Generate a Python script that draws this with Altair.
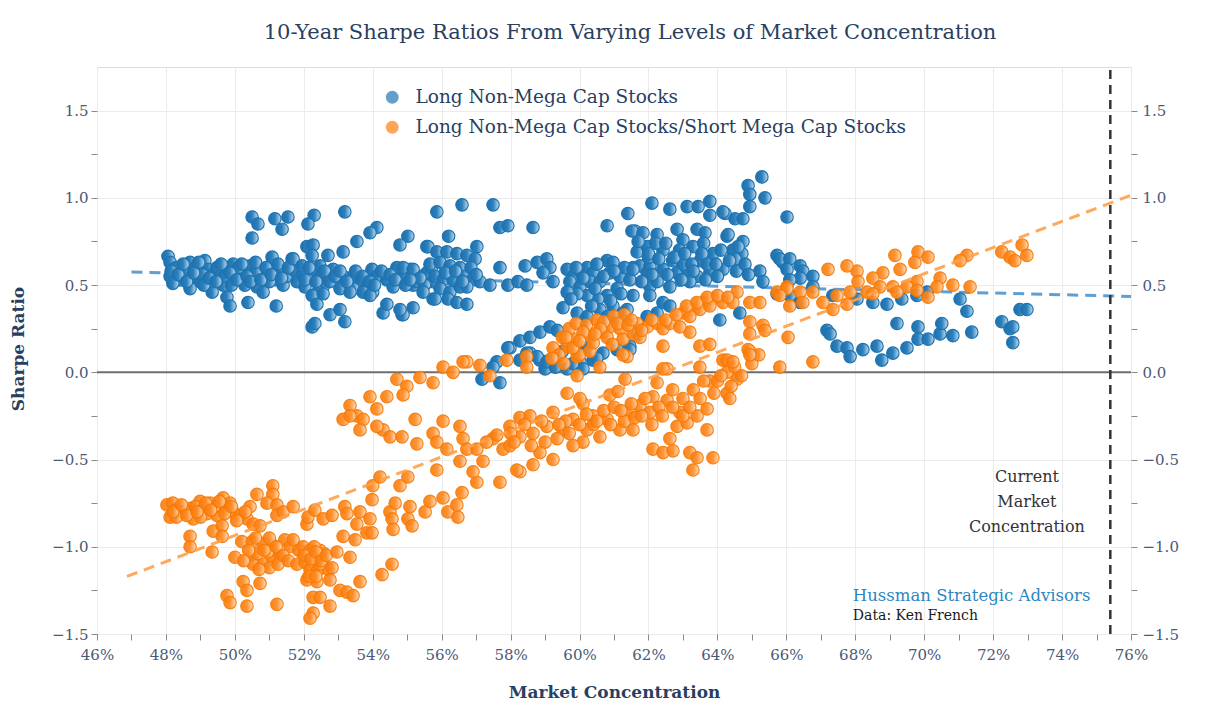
import altair as alt
import pandas as pd

# ---------------- data ----------------
series_names = ["Long Non-Mega Cap Stocks", "Long Non-Mega Cap Stocks/Short Mega Cap Stocks"]
series_colors = ["#1f77b4", "#ff7f0e"]

# Long Non-Mega Cap Stocks: (market concentration %, 10-year Sharpe ratio)
blue_48_52 = [
    (48.06, 0.665), (48.12, 0.63), (48.26, 0.59), (48.12, 0.55), (48.41, 0.53), (48.55, 0.58), (48.7, 0.63),
    (48.76, 0.55), (48.93, 0.59), (48.99, 0.52), (49.13, 0.64), (49.22, 0.59), (49.37, 0.56), (49.48, 0.6),
    (49.57, 0.55), (49.66, 0.5), (49.77, 0.59), (49.95, 0.62), (50.0, 0.56), (50.24, 0.57), (50.29, 0.5),
    (50.44, 0.61), (50.53, 0.55), (50.64, 0.49), (50.73, 0.59), (50.82, 0.46), (50.93, 0.55), (51.08, 0.66),
    (51.1, 0.59), (51.22, 0.53), (51.31, 0.58), (51.4, 0.5), (51.66, 0.65), (51.89, 0.6),
    (48.7, 0.48), (49.34, 0.46), (49.77, 0.43), (49.86, 0.38), (50.38, 0.4), (51.2, 0.38),
    (50.5, 0.89), (50.67, 0.85), (50.5, 0.77), (51.16, 0.88), (51.54, 0.89), (51.37, 0.82),
    (48.3, 0.6), (48.85, 0.6), (49.05, 0.56), (49.7, 0.55), (50.1, 0.6), (50.6, 0.58), (51.0, 0.52),
    (51.5, 0.55), (51.75, 0.58), (48.2, 0.51),
    (48.15, 0.58), (48.35, 0.56), (48.5, 0.62), (48.6, 0.52), (48.8, 0.57), (48.95, 0.63), (49.1, 0.5),
    (49.25, 0.54), (49.45, 0.52), (49.6, 0.62), (49.85, 0.57), (49.9, 0.5), (50.05, 0.53), (50.2, 0.62),
    (50.35, 0.55), (50.45, 0.52), (50.6, 0.63), (50.75, 0.53), (50.9, 0.6), (51.05, 0.56), (51.25, 0.62),
    (51.35, 0.54), (51.55, 0.6), (51.8, 0.52), (51.95, 0.56),
]
blue_52_56 = [
    (52.3, 0.9), (52.12, 0.85), (52.27, 0.59), (52.47, 0.61), (52.47, 0.55), (52.67, 0.56), (52.85, 0.59),
    (52.96, 0.52), (53.14, 0.55), (53.34, 0.49), (53.43, 0.55), (53.63, 0.52), (53.83, 0.49), (53.98, 0.59),
    (54.12, 0.55), (54.41, 0.53), (54.59, 0.49), (54.7, 0.6), (54.88, 0.55), (55.08, 0.59), (55.17, 0.5),
    (55.37, 0.55), (55.57, 0.57), (55.75, 0.52), (53.43, 0.48), (53.72, 0.46), (54.0, 0.46), (52.56, 0.49),
    (53.05, 0.48), (52.03, 0.49), (52.41, 0.46),
    (52.09, 0.72), (52.27, 0.73), (52.24, 0.67), (52.7, 0.67), (51.69, 0.65), (51.95, 0.61), (53.19, 0.92),
    (54.12, 0.83), (53.92, 0.8), (55.02, 0.78), (54.79, 0.73), (53.54, 0.75), (53.14, 0.69), (55.57, 0.72),
    (55.86, 0.92),
    (52.03, 0.53), (52.24, 0.44), (52.38, 0.39), (52.56, 0.45), (52.76, 0.33), (53.05, 0.36), (53.19, 0.29),
    (52.24, 0.26), (52.32, 0.28), (54.3, 0.34), (54.85, 0.33), (55.17, 0.37), (55.75, 0.42), (53.34, 0.46),
    (53.92, 0.44), (54.41, 0.39),
    (52.15, 0.6), (52.35, 0.52), (52.6, 0.58), (52.75, 0.52), (52.9, 0.55), (53.05, 0.58), (53.25, 0.52),
    (53.5, 0.58), (53.7, 0.55), (53.9, 0.52), (54.05, 0.5), (54.25, 0.58), (54.5, 0.56), (54.65, 0.53),
    (54.95, 0.5), (55.25, 0.52), (55.5, 0.5), (55.7, 0.6),
]
blue_56_62 = [
    (55.6, 0.72), (55.86, 0.69), (56.15, 0.69), (56.44, 0.68), (56.73, 0.67), (57.02, 0.72), (56.97, 0.65),
    (55.66, 0.62), (55.95, 0.63), (56.24, 0.61), (56.53, 0.6), (54.88, 0.6), (55.17, 0.59), (55.37, 0.54),
    (55.08, 0.53), (55.81, 0.55), (56.04, 0.53), (56.33, 0.53), (56.62, 0.55), (56.88, 0.53), (57.11, 0.52),
    (57.4, 0.5), (55.95, 0.48), (56.24, 0.46), (56.53, 0.49), (56.73, 0.49), (55.46, 0.46), (55.81, 0.42),
    (56.18, 0.42), (56.44, 0.4), (56.73, 0.39), (54.88, 0.33), (54.79, 0.36),
    (56.59, 0.96), (57.49, 0.96), (57.69, 0.83), (57.92, 0.84), (58.65, 0.83), (56.2, 0.78),
    (57.69, 0.6), (58.42, 0.61), (58.77, 0.63), (59.05, 0.65), (59.14, 0.6), (59.23, 0.52), (58.94, 0.57),
    (57.92, 0.5), (58.21, 0.52), (58.47, 0.5),
    (59.64, 0.59), (59.81, 0.55), (60.01, 0.58), (60.22, 0.6), (60.39, 0.57), (59.72, 0.52), (60.01, 0.49),
    (60.3, 0.52), (60.59, 0.52), (60.8, 0.64), (60.97, 0.63), (60.88, 0.57), (61.17, 0.55), (61.46, 0.53),
    (61.55, 0.44), (61.09, 0.48), (60.8, 0.44), (60.53, 0.42), (60.22, 0.44), (59.93, 0.45), (59.64, 0.46),
    (59.52, 0.37), (59.93, 0.34), (60.16, 0.3), (60.59, 0.36), (60.97, 0.38), (61.26, 0.34), (61.38, 0.36),
    (60.22, 0.32), (60.8, 0.32), (61.09, 0.3),
    (61.67, 0.69), (61.55, 0.6), (61.75, 0.61), (61.96, 0.57), (62.04, 0.49),
    (60.8, 0.84), (61.4, 0.91), (62.1, 0.97), (61.61, 0.81),
    (56.1, 0.57), (56.4, 0.58), (56.6, 0.52), (56.85, 0.6), (57.0, 0.56),
    (59.9, 0.6), (60.1, 0.54), (60.45, 0.48), (60.7, 0.55), (61.2, 0.45), (59.75, 0.42), (60.35, 0.38),
    (60.9, 0.41), (61.3, 0.6), (61.0, 0.58), (60.5, 0.62),
]
blue_low_57_62 = [
    (57.98, 0.14), (58.27, 0.18), (58.56, 0.2), (58.85, 0.23), (59.14, 0.26), (59.35, 0.24), (58.56, 0.11),
    (58.85, 0.07), (59.14, 0.07), (59.0, 0.02), (59.64, 0.02), (60.01, 0.06), (60.39, 0.07), (60.68, 0.11),
    (61.09, 0.13), (61.46, 0.15), (61.96, 0.32), (62.25, 0.34), (58.27, 0.07), (57.6, 0.06), (57.49, 0.03),
    (57.17, -0.04), (57.69, -0.06), (57.92, 0.14), (58.47, 0.11), (58.77, 0.09), (59.05, 0.06), (59.3, 0.03),
    (60.1, 0.02), (60.5, 0.08), (61.46, 0.13), (59.5, 0.12), (59.8, 0.05), (60.2, 0.14), (61.7, 0.22),
]
blue_62_67 = [
    (62.62, 0.935), (63.12, 0.95), (63.44, 0.95), (63.78, 0.98), (64.22, 0.91), (64.51, 0.88), (64.74, 0.88),
    (64.89, 1.07), (64.94, 1.02), (64.94, 0.95), (65.29, 1.12), (65.38, 1.0), (66.02, 0.89),
    (61.52, 0.81), (61.84, 0.8), (62.25, 0.79), (62.83, 0.82), (63.41, 0.82), (63.64, 0.8), (61.96, 0.72),
    (62.42, 0.7), (63.0, 0.76), (63.29, 0.72), (63.87, 0.68), (64.28, 0.78), (64.45, 0.7), (64.74, 0.75),
    (64.71, 0.68), (61.55, 0.59), (62.04, 0.61), (62.42, 0.59), (62.83, 0.57), (63.12, 0.59), (63.41, 0.55),
    (63.78, 0.57), (64.16, 0.59), (64.65, 0.61), (62.25, 0.52), (62.62, 0.49), (63.2, 0.52),
    (65.23, 0.58), (65.32, 0.52), (65.73, 0.67), (65.9, 0.63),
    (62.04, 0.44), (62.42, 0.4), (62.62, 0.38), (64.07, 0.3), (64.65, 0.34),
    (64.16, 0.92), (63.78, 0.9), (64.31, 0.79), (64.6, 0.72), (64.51, 0.65), (65.81, 0.65), (66.1, 0.65),
    (66.02, 0.59), (66.4, 0.61), (66.48, 0.58), (66.77, 0.55), (66.4, 0.54), (66.1, 0.53), (66.77, 0.49),
    (65.73, 0.45), (66.1, 0.44), (66.4, 0.4), (62.0, 0.66), (62.7, 0.64), (63.5, 0.64), (63.0, 0.62),
    (62.2, 0.74), (62.9, 0.7), (63.6, 0.74),
    (61.7, 0.75), (62.0, 0.68), (62.3, 0.65), (62.5, 0.74), (62.75, 0.66), (63.05, 0.68), (63.25, 0.62),
    (63.55, 0.68), (63.7, 0.62), (63.95, 0.62), (64.1, 0.7), (64.35, 0.64), (64.55, 0.58), (64.8, 0.62),
    (64.9, 0.56), (62.1, 0.56), (62.55, 0.56), (62.95, 0.53), (63.3, 0.58), (63.65, 0.53), (64.0, 0.55),
    (61.8, 0.52),
]
blue_67_73 = [
    (67.35, 0.44), (68.05, 0.42), (68.51, 0.4), (68.92, 0.39), (69.35, 0.42), (69.79, 0.44), (70.08, 0.46),
    (71.04, 0.42), (71.24, 0.35), (72.78, 0.36), (72.98, 0.36),
    (67.18, 0.24), (67.27, 0.22), (67.47, 0.15), (67.76, 0.14), (67.85, 0.09), (68.22, 0.13), (68.63, 0.15),
    (68.77, 0.07), (69.09, 0.11), (69.21, 0.28), (69.5, 0.14), (69.82, 0.26), (69.82, 0.19), (70.11, 0.19),
    (70.46, 0.22), (70.51, 0.28), (70.83, 0.21), (71.38, 0.23), (72.25, 0.29), (72.49, 0.25), (72.57, 0.26),
    (72.57, 0.17),
]

# Long Non-Mega Cap Stocks / Short Mega Cap Stocks
orange_48_52 = [
    (48.03, -0.76), (48.2, -0.75), (48.12, -0.83), (48.41, -0.8), (48.7, -0.78), (48.99, -0.74), (49.28, -0.75),
    (49.57, -0.78), (49.66, -0.72), (49.86, -0.75), (49.95, -0.8), (48.79, -0.84), (49.19, -0.81), (49.48, -0.82),
    (48.7, -0.94), (48.7, -1.0), (49.37, -0.91), (49.63, -0.88), (49.63, -0.94), (49.34, -1.03),
    (48.26, -0.79), (48.55, -0.8), (48.85, -0.77), (49.1, -0.78), (49.4, -0.77), (49.75, -0.78), (48.3, -0.83),
    (49.0, -0.83),
    (50.15, -0.82), (50.35, -0.84), (50.44, -0.77), (50.64, -0.7), (50.53, -0.87), (50.73, -0.88), (50.0, -1.06),
    (50.2, -0.97), (50.5, -0.97), (50.53, -1.05), (50.53, -1.1), (50.82, -0.98), (50.82, -1.1), (51.1, -0.99),
    (51.1, -1.07), (51.1, -0.65), (51.1, -0.7), (50.93, -0.75), (51.22, -0.76), (51.22, -0.82), (51.4, -0.8),
    (51.69, -0.77), (51.31, -1.05), (51.45, -0.96), (51.6, -1.0), (51.69, -0.96), (50.24, -1.2), (50.35, -1.25),
    (50.73, -1.21), (49.77, -1.28), (49.86, -1.32), (50.35, -1.34), (51.22, -1.33),
    (50.65, -1.04), (50.95, -1.03), (51.0, -1.12), (50.7, -1.13), (51.25, -1.1),
    (48.2, -0.8), (48.45, -0.76), (48.6, -0.82), (48.9, -0.8), (49.15, -0.75), (49.3, -0.79), (49.55, -0.74),
    (49.7, -0.81), (49.9, -0.77), (50.05, -0.85), (50.3, -0.8), (50.6, -0.95), (50.85, -1.02), (51.0, -0.95),
    (51.2, -1.0), (51.4, -1.05), (51.55, -1.08), (51.85, -1.02), (51.8, -1.1), (50.4, -1.02), (50.25, -1.08),
]
orange_52_57 = [
    (51.98, -1.0), (52.03, -1.09), (52.18, -1.02), (52.38, -1.06), (52.47, -1.02), (52.27, -1.09), (52.56, -1.07),
    (52.18, -1.13), (52.38, -1.14), (52.09, -1.19), (52.38, -1.2), (52.27, -1.29), (52.47, -1.29), (52.27, -1.38),
    (52.18, -1.41), (52.7, -1.13), (52.76, -1.19), (52.76, -1.34), (52.82, -1.12),
    (52.3, -1.0), (52.6, -1.04), (52.1, -1.05), (52.45, -1.1),
    (52.0, -1.05), (52.2, -1.07), (52.35, -1.03), (52.5, -1.08), (52.65, -1.05), (52.15, -1.17), (52.35, -1.17),
    (52.09, -0.87), (52.12, -0.83), (52.32, -0.79), (52.56, -0.84), (52.82, -0.82), (52.96, -1.03), (53.34, -1.06),
    (53.14, -0.94), (53.49, -0.96), (53.19, -0.77), (53.25, -0.81), (53.63, -0.8), (53.54, -0.87), (53.92, -0.84),
    (53.83, -0.92), (53.98, -0.92), (53.05, -1.25), (53.25, -1.26), (53.43, -1.28), (53.63, -1.2),
    (53.98, -0.73), (54.0, -0.65), (54.21, -0.6), (54.27, -1.16), (54.56, -1.1), (54.5, -0.8), (54.56, -0.84),
    (54.59, -0.9), (54.65, -0.75), (54.79, -0.65), (55.02, -0.6), (55.02, -0.84), (55.14, -0.88), (55.08, -0.77),
    (55.52, -0.8), (55.66, -0.74), (56.04, -0.72), (56.18, -0.8), (56.44, -0.76), (56.47, -0.83), (56.59, -0.69),
    (55.86, -0.56),
]
orange_upper_53_58 = [
    (53.14, -0.27), (53.34, -0.19), (53.54, -0.25), (53.72, -0.27), (53.92, -0.14), (54.12, -0.21), (54.41, -0.14),
    (54.7, -0.04), (54.99, -0.08), (54.88, -0.13), (55.37, -0.03), (55.75, -0.06), (56.04, 0.03), (56.33, 0.0),
    (56.73, 0.06), (57.11, 0.04), (57.4, -0.02), (54.3, -0.33), (54.5, -0.37), (54.12, -0.31), (53.63, -0.33),
    (53.34, -0.25), (56.62, 0.06), (57.89, 0.07), (58.47, 0.09), (58.47, 0.03),
]
orange_band_54_65 = [
    (54.85, -0.37), (55.28, -0.41), (55.23, -0.27), (55.75, -0.35), (56.04, -0.28), (55.86, -0.4), (56.15, -0.44),
    (56.53, -0.31), (56.62, -0.38), (56.73, -0.44), (57.02, -0.44), (57.2, -0.51), (56.53, -0.51), (57.49, -0.38),
    (57.78, -0.44), (57.98, -0.42), (57.98, -0.31), (58.27, -0.26), (58.56, -0.25), (58.65, -0.35), (58.27, -0.37),
    (58.85, -0.46), (59.23, -0.5), (58.65, -0.53), (58.27, -0.57), (57.69, -0.63), (57.02, -0.63), (56.91, -0.57),
    (59.05, -0.31), (59.23, -0.23), (59.52, -0.33), (59.81, -0.27), (60.1, -0.4), (59.81, -0.42), (60.22, -0.33),
    (60.59, -0.37), (60.39, -0.25), (60.1, -0.18), (59.64, -0.12), (60.01, -0.15), (60.8, -0.27), (61.17, -0.33),
    (60.88, -0.13), (61.11, -0.11), (61.32, -0.04), (61.55, -0.33), (61.46, -0.23), (61.75, -0.19), (62.04, -0.23),
    (62.13, -0.14), (62.25, -0.06), (62.54, -0.16), (62.54, 0.02), (62.91, -0.23), (62.83, -0.31), (63.12, -0.29),
    (63.41, -0.25), (63.7, -0.33), (63.49, 0.03), (63.78, -0.05), (64.28, -0.12), (64.36, -0.15), (64.16, 0.07),
    (64.28, 0.0), (64.57, -0.04),
    (62.13, -0.44), (62.42, -0.46), (62.71, -0.45), (63.2, -0.46), (63.41, -0.49), (63.87, -0.49), (63.29, -0.56),
    (62.62, -0.38), (63.7, -0.21),
    (58.0, -0.35), (58.4, -0.3), (58.9, -0.28), (59.35, -0.38), (59.6, -0.28), (60.0, -0.3), (60.4, -0.3),
    (60.7, -0.22), (61.0, -0.2), (61.3, -0.28), (61.6, -0.26), (61.9, -0.15), (62.3, -0.2), (62.7, -0.1),
    (63.0, -0.15), (63.3, -0.1), (63.6, -0.05), (64.0, -0.05), (64.5, 0.03), (64.7, -0.02), (65.0, 0.05),
    (65.2, 0.1), (59.93, -0.02), (60.59, 0.03), (58.18, -0.56),
    (57.3, -0.4), (57.6, -0.36), (58.1, -0.4), (58.6, -0.42), (59.0, -0.4), (59.4, -0.3), (59.7, -0.35),
    (60.2, -0.24), (60.5, -0.28), (60.9, -0.3), (61.2, -0.22), (61.5, -0.18), (61.8, -0.25), (62.1, -0.3),
    (62.4, -0.25), (62.7, -0.2), (63.0, -0.25), (63.2, -0.2), (63.5, -0.15), (63.9, -0.12), (64.1, -0.02),
    (64.4, -0.08),
]
orange_upper_58_67 = [
    (59.23, 0.14), (59.64, 0.15), (59.81, 0.19), (59.93, 0.09), (60.3, 0.21), (60.68, 0.23), (60.88, 0.26),
    (61.17, 0.25), (61.26, 0.19), (61.38, 0.09), (61.67, 0.28), (61.96, 0.26), (62.25, 0.28), (62.42, 0.25),
    (62.62, 0.28), (63.0, 0.34), (63.29, 0.36), (63.58, 0.4), (63.87, 0.42), (64.16, 0.4), (64.57, 0.46),
    (64.94, 0.4), (65.23, 0.4), (65.73, 0.46), (66.02, 0.49),
    (62.42, 0.15), (63.2, 0.23), (63.49, 0.15), (63.78, 0.16), (64.94, 0.29), (64.94, 0.22), (65.32, 0.27),
    (64.94, 0.12), (64.28, 0.07), (64.45, 0.06), (62.42, 0.02), (65.81, 0.03),
    (59.5, 0.2), (59.7, 0.25), (59.9, 0.28), (60.2, 0.27), (60.5, 0.3), (60.7, 0.29), (61.0, 0.32), (61.3, 0.33),
    (60.0, 0.1), (60.3, 0.12), (59.4, 0.1), (61.55, 0.22), (61.26, 0.1), (61.75, 0.2),
    (66.02, 0.48), (66.4, 0.46), (65.81, 0.44), (64.45, 0.4), (66.48, 0.4), (66.1, 0.38), (66.77, 0.46),
    (63.49, 0.36), (63.2, 0.32), (63.78, 0.38), (62.91, 0.26), (65.38, 0.24), (64.89, 0.13), (64.94, 0.1),
    (66.05, 0.2), (66.77, 0.06),
    (59.6, 0.2), (59.8, 0.14), (60.1, 0.23), (60.4, 0.17), (60.6, 0.25), (60.8, 0.2), (61.1, 0.28), (61.4, 0.27),
    (61.8, 0.24), (62.1, 0.3), (62.5, 0.3), (62.8, 0.33), (63.1, 0.38), (63.4, 0.4), (63.7, 0.43), (64.0, 0.44),
    (64.3, 0.43), (59.2, 0.08), (59.55, 0.05), (60.0, 0.18), (60.45, 0.22), (60.95, 0.16), (61.5, 0.3),
]
orange_67_73 = [
    (72.84, 0.73), (72.25, 0.69), (72.49, 0.66), (72.63, 0.64), (72.98, 0.67), (69.82, 0.69), (70.11, 0.66),
    (69.73, 0.63), (71.24, 0.67), (71.04, 0.64), (69.15, 0.67), (69.3, 0.59), (68.8, 0.57), (68.51, 0.54),
    (68.05, 0.58), (67.76, 0.61), (68.08, 0.52), (67.21, 0.59), (69.79, 0.52), (69.5, 0.49), (70.46, 0.54),
    (70.37, 0.49), (70.83, 0.5), (71.33, 0.49), (69.09, 0.49), (68.72, 0.49), (68.34, 0.46), (67.85, 0.46),
    (67.47, 0.44), (67.06, 0.4), (67.35, 0.36), (67.76, 0.39), (68.51, 0.45), (69.21, 0.46), (69.79, 0.47),
    (70.11, 0.43),
]

# fitted trend lines (end points)
blue_trend_conc = [47.0, 76.0]
blue_trend_sharpe = [0.575, 0.435]
orange_trend_conc = [46.87, 76.0]
orange_trend_sharpe = [-1.17, 1.015]

current_concentration = 75.4
x_domain = [46, 76]
y_domain = [-1.5, 1.75]

title_text = "10-Year Sharpe Ratios From Varying Levels of Market Concentration"
note_text = ["Current", "Market", "Concentration"]
brand_text = "Hussman Strategic Advisors"
source_text = "Data: Ken French"


def frame(series, *groups):
    pts = [p for g in groups for p in g]
    return pd.DataFrame({"conc": [p[0] for p in pts], "sharpe": [p[1] for p in pts], "series": series})


blue_df = frame(series_names[0], blue_48_52, blue_52_56, blue_56_62, blue_low_57_62, blue_62_67, blue_67_73)
orange_df = frame(series_names[1], orange_48_52, orange_52_57, orange_upper_53_58, orange_band_54_65,
                  orange_upper_58_67, orange_67_73)
all_df = pd.concat([blue_df, orange_df], ignore_index=True)
blue_trend_df = pd.DataFrame({"conc": blue_trend_conc, "sharpe": blue_trend_sharpe})
orange_trend_df = pd.DataFrame({"conc": orange_trend_conc, "sharpe": orange_trend_sharpe})

# ---------------- styling ----------------
FONT = "DejaVu Serif"
INK = "#2a3f5f"
TICK_INK = "#4a5877"
W, H = 1034, 567

x_scale = alt.Scale(domain=x_domain, nice=False, zero=False)
y_scale = alt.Scale(domain=y_domain, nice=False, zero=False)

x_tick_values = list(range(x_domain[0], x_domain[1] + 1))
y_tick_values = [-1.5 + 0.25 * i for i in range(13)]

common_axis = dict(
    labelFont=FONT, labelFontSize=15, labelColor=TICK_INK, tickColor="#8a8a8a", tickSize=6,
    domain=False, labelFlush=False, labelOverlap=False, gridColor="#ebebeb", gridWidth=1,
    titleFont=FONT, titleFontSize=17, titleFontWeight="bold", titleColor=INK,
)

x_axis = alt.Axis(
    values=x_tick_values,
    labelExpr="datum.value % 2 == 0 ? datum.value + '%' : ''",
    gridOpacity={"condition": {"test": "datum.value % 2 != 0", "value": 0}, "value": 1},
    labelPadding=7,
    title="Market Concentration",
    titleX=W / 2, titleY=58, titleBaseline="middle", titleAlign="center",
    **common_axis,
)
y_axis_left = alt.Axis(
    values=y_tick_values,
    labelExpr="abs(datum.value * 4) % 2 == 0 ? format(datum.value, '.1f') : ''",
    gridOpacity={"condition": {"test": "abs(datum.value * 4) % 2 != 0", "value": 0}, "value": 1},
    labelPadding=3,
    title="Sharpe Ratio",
    titleX=-79, titleY=H / 2 - 2, titleAngle=270, titleBaseline="middle", titleAlign="center",
    orient="left",
    **common_axis,
)
y_axis_right = alt.Axis(
    values=y_tick_values,
    labelExpr="abs(datum.value * 4) % 2 == 0 ? format(datum.value, '.1f') : ''",
    grid=False,
    labelPadding=5,
    title=None,
    orient="right",
    **common_axis,
)

blue_fill = alt.LinearGradient(
    gradient="linear", x1=0, y1=0, x2=1, y2=0,
    stops=[alt.GradientStop(color="#1f6fab", offset=0), alt.GradientStop(color="#2a80bd", offset=0.5),
           alt.GradientStop(color="#c6dcef", offset=1)],
)
orange_fill = alt.LinearGradient(
    gradient="linear", x1=0, y1=0, x2=1, y2=0,
    stops=[alt.GradientStop(color="#fb7a08", offset=0), alt.GradientStop(color="#ff8a22", offset=0.5),
           alt.GradientStop(color="#ffdcbc", offset=1)],
)

X = alt.X("conc:Q", scale=x_scale, axis=x_axis)
Y = alt.Y("sharpe:Q", scale=y_scale, axis=y_axis_left)

zero_line = alt.Chart(pd.DataFrame({"sharpe": [0.0]})).mark_rule(color="#6e6e6e", strokeWidth=2).encode(
    y=alt.Y("sharpe:Q", scale=y_scale, axis=y_axis_left)
)

blue_points = alt.Chart(blue_df).mark_circle(
    size=155, fill=blue_fill, stroke="#1f74b0", strokeWidth=1.2, opacity=1
).encode(x=X, y=Y)

orange_points = alt.Chart(orange_df).mark_circle(
    size=155, fill=orange_fill, stroke="#f57a05", strokeWidth=1.2, opacity=0.92
).encode(x=X, y=Y)

blue_trend = alt.Chart(blue_trend_df).mark_line(
    color="#4f95cc", strokeWidth=3, strokeDash=[11, 7], opacity=0.9
).encode(x=X, y=Y)

orange_trend = alt.Chart(orange_trend_df).mark_line(
    color="#ffa04a", strokeWidth=3, strokeDash=[11, 7], opacity=0.9
).encode(x=X, y=Y)

legend_layer = alt.Chart(all_df).transform_filter("false").mark_circle(size=150).encode(
    x=X, y=Y,
    color=alt.Color(
        "series:N",
        scale=alt.Scale(domain=series_names, range=series_colors),
        legend=alt.Legend(
            orient="none", legendX=286, legendY=21, title=None, direction="vertical",
            labelFont=FONT, labelFontSize=18.5, labelColor=INK, symbolType="circle", symbolSize=165,
            symbolStrokeWidth=1, rowPadding=11, labelOffset=14, labelLimit=700,
        ),
    ),
)

note = alt.Chart(pd.DataFrame({"conc": [72.98], "sharpe": [-0.557]})).mark_text(
    text=note_text, font=FONT, fontSize=16, color="#333333", align="center", baseline="top", lineHeight=25
).encode(x=X, y=Y)

brand = alt.Chart(pd.DataFrame({"conc": [67.93], "sharpe": [-1.28]})).mark_text(
    text=brand_text, font=FONT, fontSize=16.5, color="#2e86c1", align="left", baseline="middle"
).encode(x=X, y=Y)

source = alt.Chart(pd.DataFrame({"conc": [67.93], "sharpe": [-1.394]})).mark_text(
    text=source_text, font=FONT, fontSize=14, color="#1a1a1a", align="left", baseline="middle"
).encode(x=X, y=Y)

main = alt.layer(zero_line, blue_trend, blue_points, orange_points, orange_trend, legend_layer, note, brand, source)

current_line = alt.Chart(
    pd.DataFrame({"conc": [current_concentration], "lo": [y_domain[0]], "hi": [y_domain[1]]})
).mark_rule(color="#333333", strokeWidth=2.5, strokeDash=[9, 6]).encode(
    x=alt.X("conc:Q", scale=x_scale, axis=x_axis),
    y=alt.Y("lo:Q", scale=y_scale, axis=y_axis_right),
    y2="hi:Q",
)

chart = alt.layer(main, current_line).resolve_axis(y="independent").properties(
    width=W, height=H,
    title=alt.TitleParams(
        text=title_text, font=FONT, fontSize=21, fontWeight="normal", color=INK,
        anchor="middle", frame="group", dx=16, dy=24, offset=26, baseline="bottom",
    ),
    autosize=alt.AutoSizeParams(type="none"),
    padding={"left": 89, "top": 59, "right": 90, "bottom": 76},
).configure_view(stroke="#8a8a8a", strokeWidth=1.5).configure(background="white")

chart.save("out.html", embed_options={"renderer": "svg", "actions": False})
